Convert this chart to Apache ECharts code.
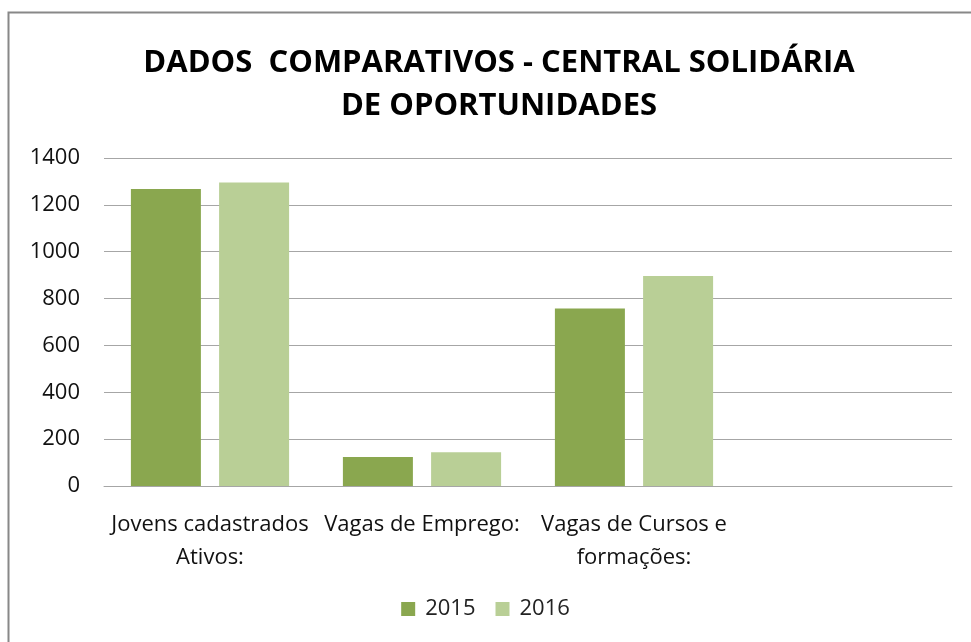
<!DOCTYPE html>
<html>
<head>
<meta charset="utf-8">
<script src="https://cdn.jsdelivr.net/npm/echarts@6/dist/echarts.min.js"></script>
<style>
  html, body { margin: 0; padding: 0; background: #fff; }
  #main { width: 971px; height: 642px; }
</style>
</head>
<body>
<div id="main"></div>
<script>
// categorias e valores
const categories = ['Jovens cadastrados\nAtivos:', 'Vagas de Emprego:', 'Vagas de Cursos e\nformações:', ''];
const values2015 = [1268, 124, 758, null];
const values2016 = [1295, 144, 896, null];
const yTicks = { min: 0, max: 1400, interval: 200 };

const fontFamily = '"Open Sans", "Noto Sans", sans-serif';
const chart = echarts.init(document.getElementById('main'));

chart.setOption({
    backgroundColor: '#fff',
    animation: false,
    title: {
        text: 'DADOS  COMPARATIVOS - CENTRAL SOLIDÁRIA\nDE OPORTUNIDADES',
        left: 494,
        top: 37,
        textAlign: 'center',
        textStyle: {
            fontFamily: fontFamily,
            fontSize: 31,
            fontWeight: 'bold',
            color: '#000',
            lineHeight: 43
        }
    },
    graphic: [{
        type: 'rect',
        shape: { x: 8.5, y: 12.5, width: 1000, height: 700 },
        style: { fill: 'none', stroke: '#888', lineWidth: 2 },
        silent: true
    }],
    legend: {
        bottom: 17,
        left: 'center',
        itemWidth: 14,
        itemHeight: 14,
        itemGap: 20,
        icon: 'rect',
        textStyle: { fontFamily: fontFamily, fontSize: 22, color: '#222', padding: [0, 0, 0, 5] },
        data: ['2015', '2016']
    },
    grid: {
        left: 104,
        right: 19,
        top: 158,
        bottom: 156,
        containLabel: false
    },
    xAxis: {
        type: 'category',
        data: categories,
        axisLine: { lineStyle: { color: '#a6a6a6', width: 1 } },
        axisTick: { show: false },
        axisLabel: {
            interval: 0,
            margin: 22,
            fontFamily: fontFamily,
            fontSize: 22,
            color: '#111',
            lineHeight: 33
        }
    },
    yAxis: {
        type: 'value',
        min: yTicks.min,
        max: yTicks.max,
        interval: yTicks.interval,
        axisLine: { show: false },
        axisTick: { show: false },
        splitLine: { lineStyle: { color: '#a6a6a6', width: 1 } },
        axisLabel: {
            margin: 24,
            fontFamily: fontFamily,
            fontSize: 22,
            color: '#111',
            formatter: v => String(v)
        }
    },
    series: [{
        name: '2015',
        type: 'bar',
        data: values2015,
        barWidth: 70,
        barGap: '26%',
        itemStyle: { color: '#8aa74f' }
    }, {
        name: '2016',
        type: 'bar',
        data: values2016,
        barWidth: 70,
        itemStyle: { color: '#b9cf96' }
    }]
});
</script>
</body>
</html>
